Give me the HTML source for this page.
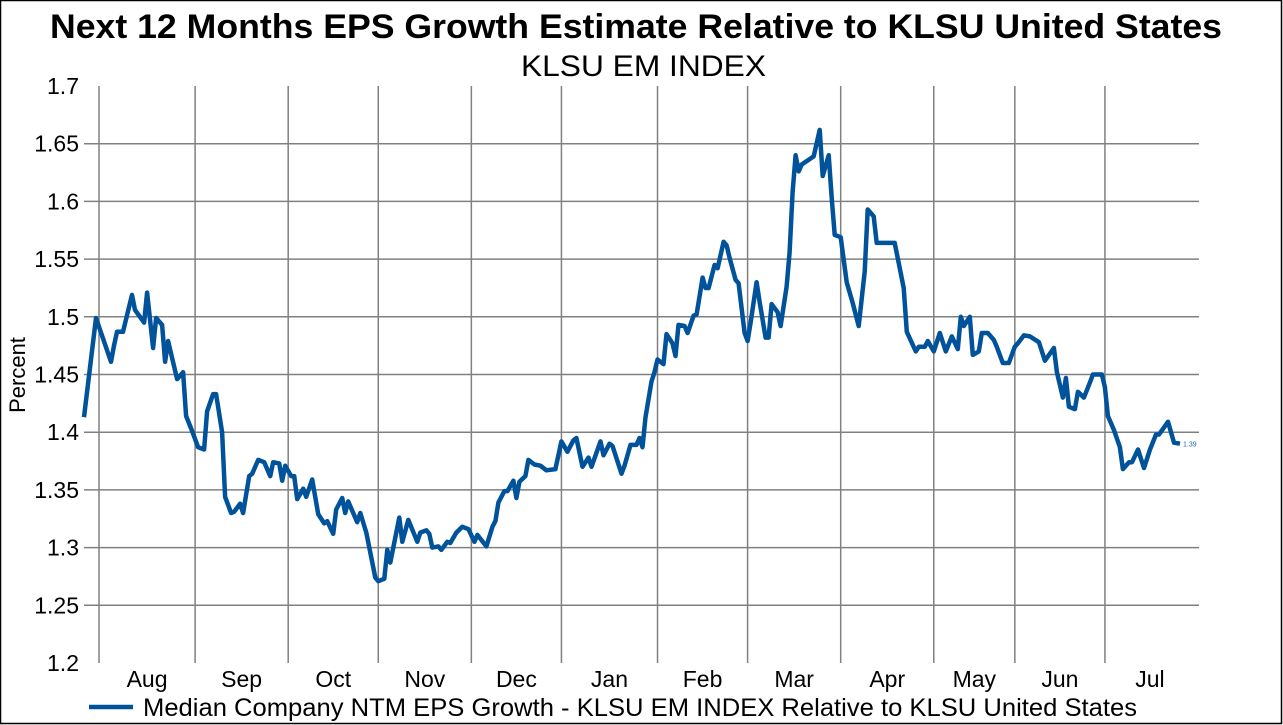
<!DOCTYPE html>
<html><head><meta charset="utf-8"><style>
body{margin:0;background:#fff;}
#c{position:relative;width:1283px;height:725px;overflow:hidden;}
svg text{font-family:"Liberation Sans",sans-serif;}
</style></head><body>
<div id="c">
<svg id="s" width="1283" height="725" xmlns="http://www.w3.org/2000/svg">
<rect x="0.5" y="0.5" width="1281" height="723" fill="#fff" stroke="#000" stroke-width="1.5"/>
<text x="50" y="38" font-size="34" font-weight="bold" fill="#000" textLength="1172" lengthAdjust="spacingAndGlyphs">Next 12 Months EPS Growth Estimate Relative to KLSU United States</text>
<text x="521" y="76" font-size="30" fill="#000" textLength="245" lengthAdjust="spacingAndGlyphs">KLSU EM INDEX</text>
<text transform="translate(25,375) rotate(-90)" text-anchor="middle" font-size="22" fill="#000">Percent</text>
<g id="grid"></g><g id="yt"></g><g id="xt"></g><g id="series"></g>
<line x1="89" y1="707" x2="133" y2="707" stroke="#00529b" stroke-width="4.5"/>
<text x="143" y="716" font-size="25" fill="#000" textLength="994" lengthAdjust="spacingAndGlyphs">Median Company NTM EPS Growth - KLSU EM INDEX Relative to KLSU United States</text>
</svg></div>
<script>
const days=[0,4,9,10,11,13,16,17,20,21,23,24,26,27,28,31,33,34,36,38,40,41,43,44,46,47,49,50,52,53,55,56,58,60,62,63,65,66,67,69,70,71,73,74,76,78,80,81,83,84,86,87,88,91,92,94,97,98,100,101,102,105,106,108,111,112,114,115,116,118,119,121,122,124,126,128,130,131,134,136,137,138,140,141,143,144,145,147,148,150,152,154,157,159,161,163,164,166,168,169,172,173,175,176,179,180,182,184,185,186,187,189,190,191,193,194,196,197,198,200,201,203,204,206,207,208,210,211,213,214,215,217,218,220,221,222,224,225,227,228,229,231,232,234,235,236,237,238,239,243,245,246,248,249,250,252,254,256,258,260,261,263,264,270,273,274,277,278,280,281,283,285,287,289,291,292,293,295,296,298,299,301,303,304,306,308,310,311,313,315,318,320,323,324,326,327,328,330,331,333,335,336,339,340,341,343,345,346,348,349,351,353,355,357,358,361,363,365];
const values=[1.413,1.499,1.461,1.475,1.487,1.487,1.519,1.506,1.495,1.521,1.473,1.499,1.493,1.461,1.479,1.446,1.452,1.414,1.401,1.387,1.385,1.418,1.433,1.433,1.400,1.344,1.330,1.331,1.338,1.330,1.362,1.364,1.376,1.374,1.362,1.374,1.373,1.358,1.371,1.362,1.362,1.342,1.351,1.344,1.359,1.329,1.321,1.323,1.312,1.333,1.343,1.330,1.340,1.322,1.330,1.313,1.274,1.271,1.273,1.298,1.287,1.326,1.305,1.324,1.305,1.313,1.315,1.312,1.300,1.301,1.298,1.305,1.304,1.313,1.318,1.316,1.305,1.311,1.301,1.318,1.323,1.339,1.349,1.349,1.358,1.343,1.357,1.362,1.376,1.372,1.371,1.367,1.368,1.392,1.383,1.393,1.395,1.370,1.378,1.370,1.392,1.380,1.390,1.388,1.364,1.371,1.389,1.389,1.395,1.387,1.413,1.444,1.452,1.463,1.459,1.485,1.477,1.466,1.493,1.492,1.486,1.501,1.502,1.534,1.525,1.525,1.545,1.542,1.565,1.562,1.551,1.532,1.529,1.486,1.479,1.495,1.530,1.513,1.482,1.482,1.511,1.504,1.492,1.526,1.556,1.608,1.640,1.626,1.632,1.639,1.662,1.622,1.640,1.603,1.571,1.569,1.530,1.512,1.492,1.539,1.593,1.587,1.564,1.564,1.525,1.487,1.470,1.474,1.474,1.479,1.470,1.486,1.470,1.483,1.472,1.500,1.492,1.500,1.467,1.470,1.486,1.486,1.480,1.474,1.460,1.460,1.474,1.477,1.484,1.483,1.478,1.462,1.473,1.452,1.430,1.447,1.422,1.420,1.435,1.430,1.443,1.450,1.450,1.439,1.414,1.402,1.387,1.368,1.374,1.374,1.385,1.369,1.385,1.398,1.398,1.409,1.391,1.390];
const yTicks=[1.2,1.25,1.3,1.35,1.4,1.45,1.5,1.55,1.6,1.65,1.7];
const yTickLabels=["1.2","1.25","1.3","1.35","1.4","1.45","1.5","1.55","1.6","1.65","1.7"];
const monthStarts=[5,37,68,98,129,159,191,221,252,283,310,340];
const monthLabels=["Aug","Sep","Oct","Nov","Dec","Jan","Feb","Mar","Apr","May","Jun","Jul"];
const lastLabel="1.39";

const X0=84,X1=1199,Y0=86,Y1=663;
const xs=d=>84+d*(1096/365);
const ys=v=>Y1-(v-1.2)/(0.5)*(Y1-Y0);
const NS="http://www.w3.org/2000/svg";
function mk(tag,parent,attrs){const e=document.createElementNS(NS,tag);for(const k in attrs)e.setAttribute(k,attrs[k]);parent.appendChild(e);return e;}
const grid=document.getElementById('grid'),yt=document.getElementById('yt'),xt=document.getElementById('xt'),ser=document.getElementById('series');
yTicks.forEach((t,i)=>{
  if(i>0&&i<yTicks.length-1){const l=mk('line',grid,{x1:X0,x2:X1,y1:ys(t),y2:ys(t),stroke:'#808080','stroke-width':1.5});
  
  }
  const tx=mk('text',yt,{x:79,y:ys(t)+8,'text-anchor':'end','font-size':23,fill:'#000'});tx.textContent=yTickLabels[i];
  
  
});
monthStarts.forEach((d,i)=>{
  const l=mk('line',grid,{x1:xs(d),x2:xs(d),y1:Y0,y2:Y1,stroke:'#808080','stroke-width':1.5});
  
  
  const next=i<monthStarts.length-1?monthStarts[i+1]:monthStarts[i]+30;
  const tx=mk('text',xt,{x:(xs(d)+xs(next))/2,y:687,'text-anchor':'middle','font-size':23,fill:'#000'});tx.textContent=monthLabels[i];
  
  
});
const pts=days.map((d,i)=>xs(d).toFixed(1)+','+ys(values[i]).toFixed(1)).join(' ');
const pl=mk('polyline',ser,{points:pts,fill:'none',stroke:'#00529b','stroke-width':4.5,'stroke-linejoin':'round'});


const li=days.length-1;
const lt=mk('text',ser,{x:xs(days[li])+3,y:ys(values[li])+3,'font-size':7,fill:'#2060b0'});lt.textContent=lastLabel;


</script>
</body></html>
